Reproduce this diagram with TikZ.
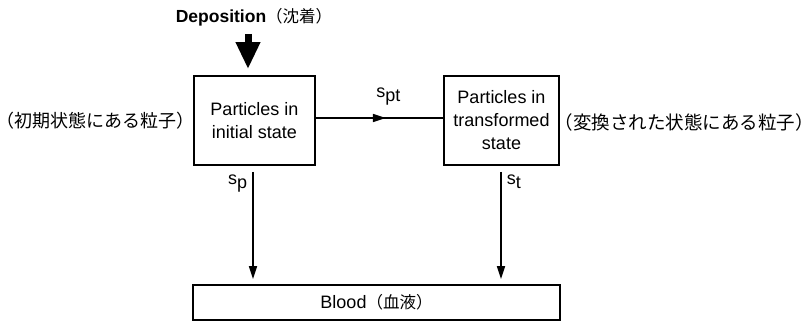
\documentclass[tikz,border=0pt]{standalone}
\usepackage{fontspec}
\setmainfont{Liberation Sans}
\newfontfamily\jp{Noto Sans CJK JP}
\usetikzlibrary{arrows.meta,decorations.markings}
\begin{document}
\begin{tikzpicture}[x=1pt,y=-1pt,
  box/.style={draw,line width=1.8pt,inner sep=0pt,align=center,font=\fontsize{18}{23}\selectfont},
  arr/.style={line width=1.6pt,-{Triangle[length=13pt,width=8pt]}},
  lbl/.style={inner sep=0pt,font=\fontsize{18}{22}\selectfont},
  jlab/.style={inner sep=0pt,font=\jp\fontsize{18.5}{22}\selectfont}]
\useasboundingbox (0,0) rectangle (812,321);
\node[box,minimum width=121pt,minimum height=89pt] (init) at (254.5,120.5) {Particles in\\initial state};
\node[box,minimum width=115pt,minimum height=89pt] (trans) at (501.5,120.5) {Particles in\\transformed\\state};
\node[box,minimum width=367pt,minimum height=35pt] (blood) at (376.5,302.5) {Blood{\jp\fontsize{16.5}{20}\selectfont （血液）}};
\node[jlab,font=\jp\fontsize{18}{22}\selectfont] (linit) at (96,121) {（初期状態にある粒子）};
\node[jlab] (ltrans) at (684,122) {（変換された状態にある粒子）};
\node[inner sep=0pt,font=\fontsize{17.5}{20}\selectfont\bfseries] (dep) at (254,17) {Deposition{\jp\mdseries\fontsize{16.5}{20}\selectfont （沈着）}};
\coordinate (deptop) at (248,34);
\draw[line width=7pt,-{Triangle[length=27pt,width=23pt]}] (deptop) -- ([xshift=-6.5pt,yshift=6pt]init.north);
\draw[line width=1.6pt,postaction={decorate},decoration={markings,mark=at position 0.55 with {\arrow{Triangle[length=13pt,width=8pt]}}}]
  ([yshift=2.5pt]init.east) -- ([yshift=2.5pt]trans.west)
  node[lbl,pos=0.57,above=12pt] (spt) {s\raisebox{-4pt}{pt}};
\draw[arr,shorten <=6pt,shorten >=5pt] ([xshift=-1.5pt]init.south) -- ([xshift=-1.5pt]init.south |- blood.north)
  node[lbl,pos=0.15,left=5pt] (sp) {s\raisebox{-4pt}{p}};
\draw[arr,shorten <=6pt,shorten >=5pt] ([xshift=-0.5pt]trans.south) -- ([xshift=-0.5pt]trans.south |- blood.north)
  node[lbl,pos=0.13,right=5pt] (st) {s\raisebox{-4pt}{t}};
\end{tikzpicture}
\end{document}
